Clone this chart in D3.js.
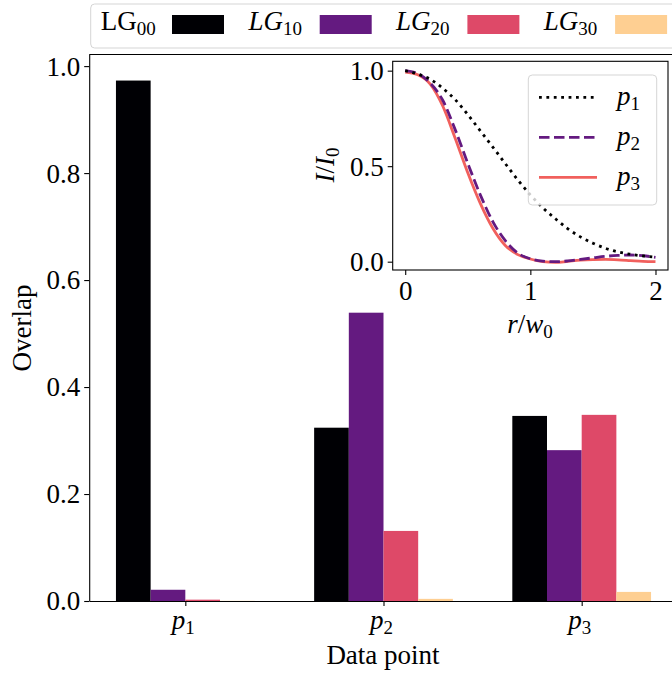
<!DOCTYPE html>
<html>
<head>
<meta charset="utf-8">
<script src="https://cdn.jsdelivr.net/npm/d3@7"></script>
<style>
body { margin: 0; background: #fff; }
svg text { font-family: 'Liberation Serif', 'DejaVu Serif', serif; fill: #000; }
</style>
</head>
<body>
<svg id="chart" width="672" height="675"></svg>
<script>
// ---- data ----
var points = ['1', '2', '3'];            // p_1, p_2, p_3
var modes = ['00', '10', '20', '30'];    // LG_00 .. LG_30
var lg00 = [0.973, 0.324, 0.346];
var lg10 = [0.021, 0.539, 0.282];
var lg20 = [0.0025, 0.131, 0.348];
var lg30 = [0.0003, 0.004, 0.017];
var barColors = ['#000004', '#641a80', '#de4968', '#fecf92'];
var yTicks = [0, 0.2, 0.4, 0.6, 0.8, 1.0];

// inset: radial intensity profiles
var rGrid = [0, 0.1, 0.2, 0.3, 0.4, 0.5, 0.6, 0.7, 0.8, 0.9, 1.0,
             1.1, 1.2, 1.3, 1.4, 1.5, 1.6, 1.7, 1.8, 1.9, 2.0];
var profP1 = [1.0, 0.982, 0.955, 0.908, 0.848, 0.77, 0.685, 0.6, 0.513, 0.428, 0.35,
              0.282, 0.225, 0.172, 0.13, 0.097, 0.07, 0.051, 0.039, 0.03, 0.023];
var profP2 = [1.0, 0.985, 0.935, 0.845, 0.69, 0.515, 0.35, 0.21, 0.11, 0.045, 0.015,
              0.003, 0.0, 0.004, 0.012, 0.02, 0.028, 0.033, 0.035, 0.031, 0.023];
var profP3 = [0.993, 0.979, 0.93, 0.815, 0.645, 0.465, 0.305, 0.175, 0.085, 0.037, 0.014,
              0.0, -0.004, 0.002, 0.008, 0.011, 0.012, 0.01, 0.006, 0.002, 0.0];
var insetXTicks = [0, 1, 2];
var insetYTicks = [0, 0.5, 1.0];
var lineColors = ['#000000', '#641a80', '#f1605d'];
var lineDash = ['2.8,4.6', '10.5,4.5', null];

var svg = d3.select('#chart');
var fs = 27, subFs = 19;

// text with a subscript, e.g. p_1 or LG_00
function subText(g, x, y, base, sub, italic, anchor) {
  var t = g.append('text')
    .attr('x', x).attr('y', y)
    .attr('font-size', fs)
    .attr('text-anchor', anchor || 'start');
  t.append('tspan').attr('font-style', italic ? 'italic' : 'normal').text(base);
  t.append('tspan').attr('font-size', subFs).attr('dy', 5).text(sub);
  return t;
}

// ---- main axes ----
var bw = 0.175;
var x = d3.scaleLinear().domain([-0.485, 2.485]).range([89.2, 677.8]);
var y = d3.scaleLinear().domain([0, 1.0217]).range([601, 54.5]);

var series = [lg00, lg10, lg20, lg30];
svg.selectAll('g.series')
  .data(series)
  .enter()
  .append('g')
  .attr('class', 'series')
  .attr('fill', (d, j) => barColors[j])
  .selectAll('rect')
  .data((d, j) => d.map((v, i) => ({ v: v, i: i, j: j })))
  .enter()
  .append('rect')
  .attr('x', d => x(d.i + (d.j - 2) * bw))
  .attr('width', x(bw) - x(0))
  .attr('y', d => y(d.v))
  .attr('height', d => y(0) - y(d.v));

// y axis
var yAxis = svg.append('g')
  .attr('transform', 'translate(' + x.range()[0] + ',0)')
  .call(d3.axisLeft(y).tickValues(yTicks).tickFormat(d3.format('.1f')).tickSize(5).tickSizeOuter(0).tickPadding(4));
yAxis.selectAll('text').attr('font-size', fs).attr('dy', '0.33em').style('font-family', null);
yAxis.selectAll('line, path').attr('stroke', '#000').attr('stroke-width', 1.1);

// x axis
var xAxis = svg.append('g')
  .attr('transform', 'translate(0,' + y(0) + ')')
  .call(d3.axisBottom(x).tickValues([0, 1, 2]).tickFormat('').tickSize(5).tickSizeOuter(0));
xAxis.selectAll('line, path').attr('stroke', '#000').attr('stroke-width', 1.1);
points.forEach((p, i) => subText(svg, x(i) - 2, 629, 'p', p, true, 'middle'));

// top & right spines
svg.append('line').attr('x1', x.range()[0]).attr('x2', x.range()[1])
  .attr('y1', y.range()[1]).attr('y2', y.range()[1]).attr('stroke', '#000').attr('stroke-width', 1.1);
svg.append('line').attr('x1', x.range()[1]).attr('x2', x.range()[1])
  .attr('y1', y.range()[0]).attr('y2', y.range()[1]).attr('stroke', '#000').attr('stroke-width', 1.1);

svg.append('text').attr('x', 383).attr('y', 664).attr('font-size', fs)
  .attr('text-anchor', 'middle').text('Data point');
svg.append('text').attr('transform', 'translate(31,328) rotate(-90)').attr('font-size', fs)
  .attr('text-anchor', 'middle').text('Overlap');

// ---- inset ----
var ix = d3.scaleLinear().domain([-0.1, 2.1]).range([392.7, 668]);
var iy = d3.scaleLinear().domain([-0.0435, 1.049]).range([270, 61.3]);

var inset = svg.append('g');
inset.append('rect')
  .attr('x', ix.range()[0]).attr('y', iy.range()[1])
  .attr('width', ix.range()[1] - ix.range()[0]).attr('height', iy.range()[0] - iy.range()[1])
  .attr('fill', '#fff');

var profiles = [profP1, profP2, profP3];
var line = d3.line()
  .x((d, k) => ix(rGrid[k]))
  .y(d => iy(d))
  .curve(d3.curveMonotoneX);

// drawn back to front: p3, p2, p1
[2, 1, 0].forEach(k => {
  inset.append('path')
    .attr('d', line(profiles[k]))
    .attr('fill', 'none')
    .attr('stroke', lineColors[k])
    .attr('stroke-width', 2.8)
    .attr('stroke-dasharray', lineDash[k]);
});

var ixAxis = inset.append('g')
  .attr('transform', 'translate(0,' + iy.range()[0] + ')')
  .call(d3.axisBottom(ix).tickValues(insetXTicks).tickFormat(d3.format('d')).tickSize(5).tickSizeOuter(0).tickPadding(6));
ixAxis.selectAll('text').attr('font-size', fs).attr('dy', '0.71em').style('font-family', null);
var iyAxis = inset.append('g')
  .attr('transform', 'translate(' + ix.range()[0] + ',0)')
  .call(d3.axisLeft(iy).tickValues(insetYTicks).tickFormat(d3.format('.1f')).tickSize(5).tickSizeOuter(0).tickPadding(4));
iyAxis.selectAll('text').attr('font-size', fs).attr('dy', '0.33em').style('font-family', null);
inset.selectAll('.domain').remove();
inset.selectAll('line').attr('stroke', '#000').attr('stroke-width', 1.1);

// inset frame
inset.append('rect')
  .attr('x', ix.range()[0]).attr('y', iy.range()[1])
  .attr('width', ix.range()[1] - ix.range()[0]).attr('height', iy.range()[0] - iy.range()[1])
  .attr('fill', 'none').attr('stroke', '#000').attr('stroke-width', 1.1);

// inset labels
var xl = inset.append('text').attr('x', 530).attr('y', 333).attr('font-size', fs).attr('text-anchor', 'middle');
xl.append('tspan').attr('font-style', 'italic').text('r');
xl.append('tspan').text('/');
xl.append('tspan').attr('font-style', 'italic').text('w');
xl.append('tspan').attr('font-size', subFs).attr('dy', 5).text('0');

var yl = inset.append('text').attr('transform', 'translate(334,165) rotate(-90)').attr('font-size', fs).attr('text-anchor', 'middle');
yl.append('tspan').attr('font-style', 'italic').text('I');
yl.append('tspan').text('/');
yl.append('tspan').attr('font-style', 'italic').text('I');
yl.append('tspan').attr('font-size', subFs).attr('dy', 5).text('0');

// inset legend
inset.append('rect')
  .attr('x', 528.3).attr('y', 75).attr('width', 128.4).attr('height', 130).attr('rx', 4)
  .attr('fill', '#fff').attr('fill-opacity', 0.8).attr('stroke', '#d5d5d5').attr('stroke-width', 1);
points.forEach((p, k) => {
  var ly = 97.3 + k * 40;
  inset.append('line')
    .attr('x1', 539).attr('x2', 597).attr('y1', ly).attr('y2', ly)
    .attr('stroke', lineColors[k]).attr('stroke-width', 2.8)
    .attr('stroke-dasharray', lineDash[k]);
  subText(inset, 617, ly + 8, 'p', p, true);
});

// ---- top legend ----
var leg = svg.append('g');
leg.append('rect')
  .attr('x', 90.7).attr('y', 4).attr('width', 640).attr('height', 44).attr('rx', 4)
  .attr('fill', '#fff').attr('stroke', '#d5d5d5').attr('stroke-width', 1);
modes.forEach((m, j) => {
  var lx = 100.7 + j * 147.7;
  subText(leg, lx, 29.5, 'LG', m, j > 0);
  leg.append('rect')
    .attr('x', 172 + j * 147.7).attr('y', 15)
    .attr('width', 52).attr('height', 19)
    .attr('fill', barColors[j]);
});
</script>
</body>
</html>
